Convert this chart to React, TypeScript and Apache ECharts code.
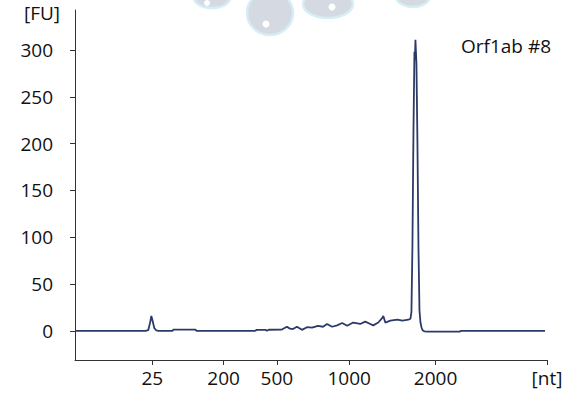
import React, { useEffect, useRef } from "react";
import * as echarts from "echarts";

// migration time (s) and fluorescence (FU)
const timeSec = [
  20.0, 27.0, 27.3, 27.5, 27.6, 27.7, 27.9, 28.1, 28.3, 29.7, 29.8, 32.0, 32.1,
  37.9, 38.1, 39.0, 39.1, 39.3, 40.6, 41.1, 41.4, 41.7, 42.1, 42.6, 43.1, 43.6,
  44.2, 44.7, 45.1, 45.6, 46.1, 46.6, 47.1, 47.7, 48.4, 48.9, 49.3, 49.7, 50.2,
  50.6, 50.7, 50.9, 51.4, 52.1, 52.6, 53.2, 53.4, 53.5, 53.6, 53.7, 53.8, 53.85,
  53.9, 54.0, 54.1, 54.2, 54.3, 54.4, 54.5, 54.6, 54.8, 55.1, 58.3, 58.4, 66.8,
];
const fu = [
  0, 0, 1, 10, 16, 12, 3, 0.5, 0, 0, 1.5, 1.5, 0,
  0, 1.2, 1.2, 0.2, 1.3, 1.5, 4.5, 2.5, 2, 4.5, 1.2, 4, 3.5,
  5.5, 4.5, 7.5, 4.5, 6, 8.5, 5.5, 9, 7.5, 10, 8, 6, 9,
  14, 16, 9, 11, 12, 11, 12, 13, 20, 90, 210, 298, 290,
  311, 285, 200, 90, 22, 9, 4, 1, -0.5, -0.8, -0.8, 0, 0,
];

const xTickTimes = [27.7, 34.8, 40.1, 47.3, 55.9, 67];
const xTickLabels = ["25", "200", "500", "1000", "2000", "[nt]"];
const yTicks = [0, 50, 100, 150, 200, 250, 300];
const sampleName = "Orf1ab #8";
const yUnit = "[FU]";

const FONT = "'Open Sans', sans-serif";
const TEXT = "#111111";

export default function App() {
  const ref = useRef<HTMLDivElement>(null);
  useEffect(() => {
    if (!ref.current) return;
    const chart = echarts.init(ref.current, undefined, { renderer: "svg" });
    const data = timeSec.map((t, i) => [t, fu[i]]);
    const blob = { fill: "#d3d8e0", stroke: "#d6edf4", lineWidth: 2.5, opacity: 0.95 };
    chart.setOption({
      animation: false,
      backgroundColor: "#ffffff",
      grid: { left: 75, right: 21, top: 10, bottom: 33 },
      xAxis: {
        type: "value",
        min: 20,
        max: 67,
        axisLine: { show: true, onZero: false, lineStyle: { color: "#333", width: 1 } },
        axisTick: {
          show: true,
          customValues: xTickTimes,
          length: 5,
          lineStyle: { color: "#333" },
        },
        axisLabel: {
          customValues: xTickTimes,
          margin: 8,
          color: TEXT,
          fontFamily: FONT,
          fontSize: 19,
          formatter: (v: number) => {
            let best = 0;
            xTickTimes.forEach((t, i) => {
              if (Math.abs(t - v) < Math.abs(xTickTimes[best] - v)) best = i;
            });
            return xTickLabels[best];
          },
        },
        splitLine: { show: false },
      },
      yAxis: {
        type: "value",
        min: -31,
        max: 342.7,
        axisLine: { show: true, onZero: false, lineStyle: { color: "#333", width: 1 } },
        axisTick: {
          show: true,
          customValues: yTicks,
          length: 5,
          lineStyle: { color: "#333" },
        },
        axisLabel: {
          customValues: yTicks,
          margin: 22,
          color: TEXT,
          fontFamily: FONT,
          fontSize: 19,
        },
        splitLine: { show: false },
      },
      graphic: [
        { type: "ellipse", shape: { cx: 212, cy: -2, rx: 18, ry: 10 }, style: blob, z: 0 },
        { type: "ellipse", shape: { cx: 270, cy: 13, rx: 23, ry: 22 }, style: blob, z: 0 },
        { type: "ellipse", shape: { cx: 328, cy: 4, rx: 25, ry: 14 }, style: blob, z: 0 },
        { type: "ellipse", shape: { cx: 413, cy: -4, rx: 17, ry: 11 }, style: blob, z: 0 },
        { type: "circle", shape: { cx: 207, cy: 3, r: 3 }, style: { fill: "#ffffff" }, z: 1 },
        { type: "circle", shape: { cx: 266, cy: 24, r: 3.5 }, style: { fill: "#ffffff" }, z: 1 },
        { type: "circle", shape: { cx: 332, cy: 7, r: 3.5 }, style: { fill: "#ffffff" }, z: 1 },
        {
          type: "text",
          left: 24,
          top: 3,
          style: { text: yUnit, fill: TEXT, font: `19px ${FONT}` },
        },
        {
          type: "text",
          left: 461,
          top: 36,
          style: { text: sampleName, fill: TEXT, font: `19px ${FONT}` },
        },
      ],
      series: [
        {
          type: "line",
          data,
          showSymbol: false,
          symbol: "none",
          lineStyle: { color: "#2c3a68", width: 1.8 },
          z: 5,
        },
      ],
    });
    return () => chart.dispose();
  }, []);
  return (
    <div
      ref={ref}
      style={{ position: "fixed", left: 0, top: 0, width: 568, height: 393 }}
    />
  );
}
